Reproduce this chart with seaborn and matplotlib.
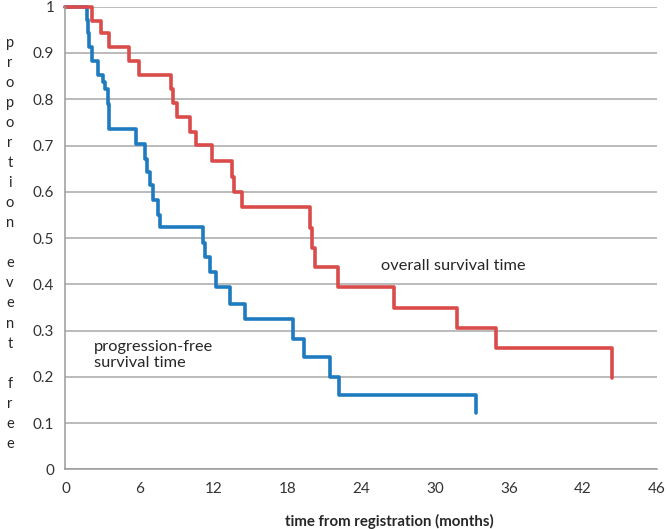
import pandas as pd
import seaborn as sns
import matplotlib
matplotlib.use('Agg')
import matplotlib.pyplot as plt

# overall survival (red) - step points
os_time = [0, 2.13, 2.86, 3.54, 5.19, 5.98, 8.58, 8.76, 9.04, 10.12, 10.61, 11.91,
	13.56, 13.72, 14.33, 19.82, 20.02, 20.24, 22.11, 26.65, 31.8, 34.92, 44.41]
os_surv = [1.0, 0.970, 0.943, 0.912, 0.883, 0.852, 0.822, 0.791, 0.761, 0.730, 0.701, 0.667,
	0.633, 0.600, 0.567, 0.521, 0.478, 0.438, 0.395, 0.348, 0.305, 0.262, 0.197]

# progression-free survival (blue)
pfs_time = [0, 1.72, 1.85, 1.93, 2.13, 2.67, 3.02, 3.21, 3.43, 3.56, 5.76, 6.46, 6.65, 6.87,
	7.09, 7.52, 7.68, 11.15, 11.34, 11.75, 12.24, 13.32, 14.54, 18.44, 19.39, 21.45, 22.18, 33.37]
pfs_surv = [1.0, 0.971, 0.943, 0.913, 0.883, 0.852, 0.837, 0.822, 0.79, 0.736, 0.703, 0.672,
	0.643, 0.615, 0.582, 0.55, 0.523, 0.489, 0.46, 0.427, 0.394, 0.357, 0.325, 0.282, 0.242,
	0.2, 0.161, 0.121]

os_name = 'overall survival time'
pfs_name = 'progression-free\nsurvival time'
series_colors = {os_name: '#d94c4a', pfs_name: '#1f7bc0'}

y_ticks = [0, 0.1, 0.2, 0.3, 0.4, 0.5, 0.6, 0.7, 0.8, 0.9, 1]
y_tick_labels = ['0', '0.1', '0.2', '0.3', '0.4', '0.5', '0.6', '0.7', '0.8', '0.9', '1']
# last tick sits one full step after 42 but is labelled 46
x_ticks = [0, 6, 12, 18, 24, 30, 36, 42, 48]
x_tick_labels = ['0', '6', '12', '18', '24', '30', '36', '42', '46']

ylabel_words = ['proportion', 'event', 'free']
xlabel = 'time from registration (months)'


def main():
	sns.set_style('white')
	plt.rcParams['font.family'] = ['Lato', 'DejaVu Sans']

	df = pd.concat([
		pd.DataFrame({'time': pfs_time, 'surv': pfs_surv, 'series': pfs_name}),
		pd.DataFrame({'time': os_time, 'surv': os_surv, 'series': os_name}),
	], ignore_index=True)

	fig = plt.figure(figsize=(6.66, 5.29), dpi=100)
	ax = fig.add_axes([0.0983, 0.1125, 0.8877, 0.8748])

	ax.yaxis.grid(True, color='#a8a8a8', linewidth=1.1)
	ax.set_axisbelow(True)

	# blue first so red sits on top along y=1
	sns.lineplot(data=df, x='time', y='surv', hue='series', palette=series_colors,
		hue_order=[pfs_name, os_name], estimator=None, drawstyle='steps-post',
		linewidth=2.6, legend=False, ax=ax, clip_on=False)

	ax.set_xlim(0, 48)
	ax.set_ylim(0, 1)
	ax.set_xticks(x_ticks)
	ax.set_xticklabels(x_tick_labels)
	ax.set_yticks(y_ticks)
	ax.set_yticklabels(y_tick_labels)
	ax.set_xlabel('')
	ax.set_ylabel('')

	sns.despine(ax=ax)
	for side in ['left', 'bottom']:
		ax.spines[side].set_color('#9a9a9a')
		ax.spines[side].set_linewidth(1.1)
	ax.tick_params(axis='both', which='major', direction='out', length=4, width=1,
		color='#9a9a9a', labelsize=11, labelcolor='#333333')
	ax.tick_params(axis='x', pad=5)
	ax.tick_params(axis='y', pad=4)

	ax.text(25.6, 0.44, os_name, fontsize=11.8, color='#262626', va='center')
	ax.text(2.3, 0.248, pfs_name, fontsize=11.8, color='#262626', va='center',
		linespacing=1.2)

	# stacked letters on the left
	letters = '\n\n'.join('\n'.join(w) for w in ylabel_words)
	fig.text(0.015, 0.54, letters, fontsize=10.5, color='#262626', ha='center',
		va='center', linespacing=1.55)
	fig.text(0.584, 0.014, xlabel, fontsize=10.8, fontweight='bold', color='#262626',
		ha='center', va='center')

	fig.savefig('out.png', dpi=100)


if __name__ == '__main__': main()
